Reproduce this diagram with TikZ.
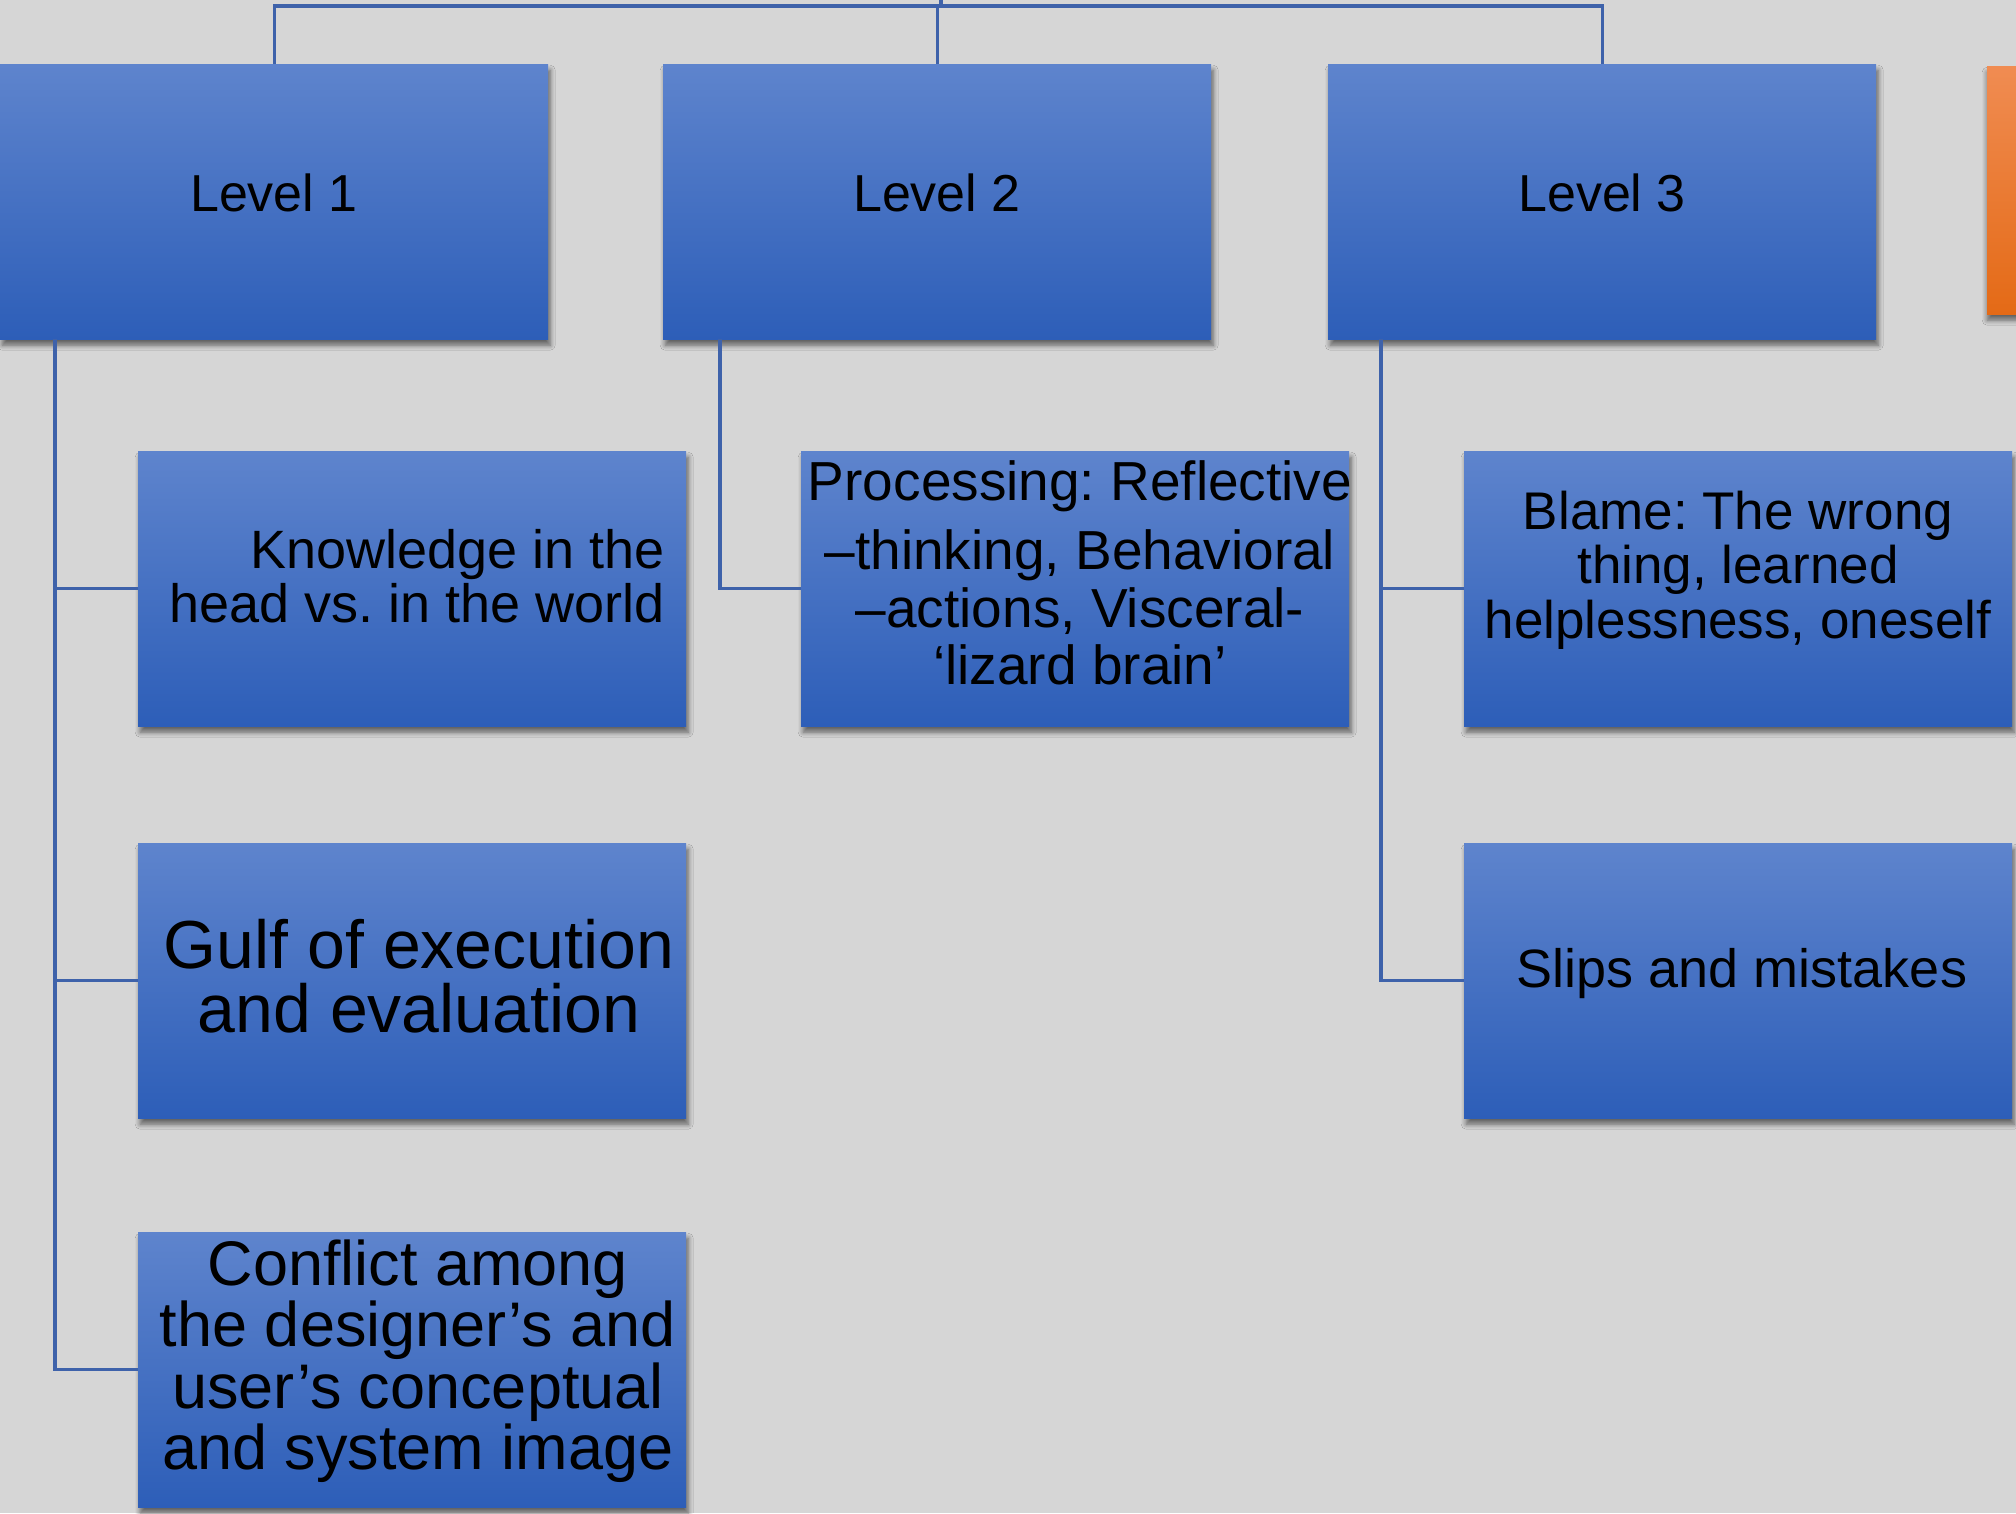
\documentclass[tikz,border=0pt]{standalone}
\usepackage{fontspec}
\setmainfont{Liberation Sans}
\usetikzlibrary{shadows.blur}
\frenchspacing

\definecolor{canvas}{RGB}{214,214,214}
\definecolor{boxtop}{RGB}{94,132,205}
\definecolor{boxbot}{RGB}{45,94,184}
\definecolor{linkblue}{RGB}{62,98,170}
\definecolor{orangetop}{RGB}{240,140,82}
\definecolor{orangebot}{RGB}{228,106,22}

\tikzset{
  card/.style={minimum width=548pt, minimum height=275pt, inner sep=0pt,
    anchor=north west, draw=none, top color=boxtop, bottom color=boxbot,
    blur shadow={shadow xshift=2pt, shadow yshift=-6pt, shadow blur radius=5pt,
      shadow blur steps=6, shadow opacity=55}},
  accent/.style={minimum width=100pt, minimum height=248pt, inner sep=0pt,
    anchor=north west, draw=none, top color=orangetop, bottom color=orangebot,
    blur shadow={shadow xshift=0pt, shadow yshift=-6pt, shadow blur radius=5pt,
      shadow blur steps=6, shadow opacity=55}},
  caption/.style={text=black, inner sep=0pt, align=center},
  link/.style={draw=linkblue, line width=3.2pt}
}

\begin{document}
\begin{tikzpicture}[x=1pt, y=-1pt]
  \fill[canvas] (0,0) rectangle (2016,1513);
  \useasboundingbox (0,0) rectangle (2016,1513);

  % top-level boxes
  \node[card] (L1) at (0,64) {};
  \node[card] (L2) at (663,64) {};
  \node[card] (L3) at (1328,64) {};
  \node[accent] (O) at (1987,66) {};

  % second-level boxes
  \node[card] (K) at (138,451) {};
  \node[card] (G) at (138,843) {};
  \node[card] (C) at (138,1232) {};
  \node[card] (P) at (801,451) {};
  \node[card] (B) at (1464,451) {};
  \node[card] (S) at (1464,843) {};

  % labels
  \node[caption, font=\fontsize{52}{56}\selectfont] at (274,193) {Level 1};
  \node[caption, font=\fontsize{52}{56}\selectfont] at (937,193) {Level 2};
  \node[caption, font=\fontsize{52}{56}\selectfont] at (1602,193) {Level 3};

  \node[caption, align=right, anchor=east, font=\fontsize{54}{54}\selectfont]
    at (665,576) {Knowledge in the\\head vs. in the world};
  \node[caption, font=\fontsize{68}{64}\selectfont]
    at (419,976) {Gulf of execution\\and evaluation};
  \node[caption, font=\fontsize{63}{61.5}\selectfont]
    at (418,1361) {Conflict among\\the designer’s and\\user’s conceptual\\and system image};
  \node[caption, font=\fontsize{55}{57.5}\selectfont]
    at (1080,573) {Processing: Reflective\\[12pt]–thinking, Behavioral\\–actions, Visceral-\\‘lizard brain’};
  \node[caption, font=\fontsize{53}{54.5}\selectfont]
    at (1738,570) {Blame: The wrong\\thing, learned\\helplessness, oneself};
  \node[caption, font=\fontsize{54}{56}\selectfont]
    at (1742,974) {Slips and mistakes};

  % connectors
  \coordinate (root) at (941,-4);
  \coordinate (bus) at (941,6);
  \draw[link] (root) -- (bus);
  \draw[link] (bus) -| (L1.north);
  \draw[link] (bus) -| (L2.north);
  \draw[link] (bus) -| (L3.north);

  \coordinate (t1) at (55,339);
  \draw[link] (t1) |- (K.west);
  \draw[link] (t1) |- (G.west);
  \draw[link] (t1) |- (C.west);

  \coordinate (t2) at (720,339);
  \draw[link] (t2) |- (P.west);

  \coordinate (t3) at (1381,339);
  \draw[link] (t3) |- (B.west);
  \draw[link] (t3) |- (S.west);
\end{tikzpicture}
\end{document}
